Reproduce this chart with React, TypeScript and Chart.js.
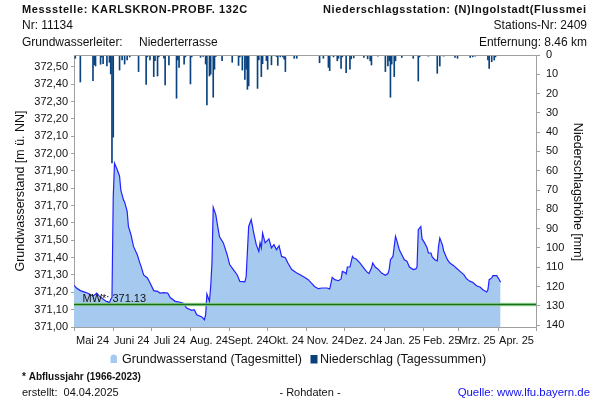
import React, { useEffect, useRef } from 'react';
import { Chart, registerables } from 'chart.js';

Chart.register(...registerables);

// day index 0 = 1 May 2024
const monthStartDays = [0, 31, 61, 92, 123, 153, 184, 214, 245, 276, 304, 335, 365];
const monthLabels = ['Mai 24', 'Juni 24', 'Juli 24', 'Aug. 24', 'Sept. 24', 'Okt. 24', 'Nov. 24', 'Dez. 24', 'Jan. 25', 'Feb. 25', 'Mrz. 25', 'Apr. 25', ''];
const levelTicks = [371.0, 371.1, 371.2, 371.3, 371.4, 371.5, 371.6, 371.7, 371.8, 371.9, 372.0, 372.1, 372.2, 372.3, 372.4, 372.5];
const rainTicks = [0, 10, 20, 30, 40, 50, 60, 70, 80, 90, 100, 110, 120, 130, 140];
const meanLevel = 371.13;

const gwDays = [
  0, 2, 5, 9, 11, 15, 18, 20, 25, 28,
  29, 30, 31, 32, 34, 36, 37, 39, 40, 42,
  43, 45, 47, 50, 52, 53, 55, 58, 60, 63,
  66, 68, 71, 74, 76, 80, 84, 86, 89, 93,
  95, 97, 101, 103, 104, 105, 107, 108, 109, 110,
  112, 114, 115, 118, 121, 123, 126, 129, 131, 135,
  136, 138, 140, 142, 144, 146, 147, 148, 149, 151,
  154, 156, 158, 160, 162, 164, 167, 169, 172, 176,
  179, 183, 185, 188, 190, 193, 196, 200, 202, 204,
  206, 209, 211, 212, 214, 215, 216, 218, 220, 221,
  223, 226, 229, 231, 233, 235, 236, 238, 240, 243,
  246, 248, 249, 250, 252, 254, 255, 257, 259, 261,
  263, 265, 268, 270, 271, 272, 274, 275, 277, 279,
  280, 282, 283, 285, 287, 288, 289, 291, 292, 295,
  297, 300, 302, 305, 308, 310, 313, 315, 318, 321,
  323, 326, 327, 328, 330, 331, 334, 336, 337,
];
const gwLevels = [
  371.24, 371.225, 371.21, 371.2, 371.195, 371.178, 371.195, 371.178, 371.15, 371.14,
  371.16, 371.17, 371.75, 371.945, 371.91, 371.87, 371.79, 371.735, 371.72, 371.667,
  371.58, 371.533, 371.465, 371.417, 371.37, 371.35, 371.3, 371.283, 371.255, 371.21,
  371.206, 371.196, 371.198, 371.196, 371.17, 371.148, 371.142, 371.138, 371.11, 371.096,
  371.1, 371.07, 371.058, 371.042, 371.07, 371.19, 371.148, 371.234, 371.37, 371.69,
  371.648, 371.56, 371.52, 371.485, 371.417, 371.36, 371.33, 371.3, 371.263, 371.26,
  371.29, 371.58, 371.62, 371.542, 371.475, 371.436, 371.485, 371.456, 371.542, 371.485,
  371.508, 371.456, 371.475, 371.446, 371.469, 371.407, 371.4, 371.369, 371.331, 371.311,
  371.3, 371.283, 371.273, 371.25, 371.234, 371.221, 371.225, 371.225, 371.219, 371.286,
  371.273, 371.267, 371.277, 371.321, 371.315, 371.306, 371.346, 371.346, 371.407, 371.398,
  371.392, 371.369, 371.34, 371.321, 371.308, 371.34, 371.369, 371.346, 371.335, 371.311,
  371.298, 371.308, 371.331, 371.388, 371.407, 371.523, 371.5, 371.446, 371.417, 371.388,
  371.38, 371.346, 371.331, 371.335, 371.346, 371.561, 371.58, 371.508, 371.485, 371.456,
  371.427, 371.427, 371.404, 371.388, 371.382, 371.465, 371.513, 371.475, 371.44, 371.388,
  371.369, 371.354, 371.34, 371.321, 371.302, 371.279, 371.263, 371.258, 371.238, 371.229,
  371.215, 371.202, 371.215, 371.273, 371.283, 371.296, 371.296, 371.273, 371.258,
];

const rainDays = [
  1, 5, 15, 16, 17, 21, 22, 23, 26, 28,
  29, 30, 31, 36, 38, 40, 42, 44, 51, 57,
  58, 60, 63, 64, 66, 67, 71, 72, 75, 81,
  82, 83, 87, 88, 92, 93, 100, 102, 104, 105,
  107, 108, 110, 111, 112, 117, 125, 130, 131, 133,
  135, 136, 137, 138, 145, 146, 148, 149, 152, 153,
  156, 160, 161, 163, 165, 166, 167, 174, 176, 194,
  197, 201, 202, 205, 208, 209, 211, 212, 215, 218,
  219, 221, 229, 232, 234, 235, 240, 246, 248, 249,
  250, 251, 253, 254, 259, 268, 272, 273, 280, 287,
  289, 292, 301, 303, 313, 315, 317, 327, 328, 330,
  332, 333,
];
const rainMm = [
  1.7, 14, 13.3, 5, 5.7, 4.8, 1, 4.5, 5.6, 3.8,
  9.8, 56, 42.6, 7.8, 2.5, 4.7, 2.5, 1, 8.6, 15.2,
  1, 2.5, 11.2, 3, 10.9, 1, 1.7, 15.5, 5.2, 22.4,
  2.6, 6.4, 4.7, 1, 15, 1, 1.2, 0.8, 4.7, 25.9,
  10.9, 10, 21.9, 7.4, 0.8, 2.9, 3.8, 5.4, 1, 7.8,
  12.6, 7.4, 17.8, 16, 17.3, 2.5, 11.2, 4.5, 2.9, 7.4,
  5.1, 0.8, 5.4, 1, 1, 2.2, 8.6, 1.7, 1.7, 4,
  1.7, 6.4, 8.1, 1, 3, 1.7, 6.9, 1, 9.2, 7.4,
  2, 1.5, 1.3, 2, 3, 5.2, 0.6, 8.6, 5.7, 3,
  21.9, 4.7, 11.2, 3, 1.3, 1.7, 13.5, 1, 0.6, 9.5,
  5.7, 0.6, 1.3, 1.7, 1.3, 1, 0.6, 2.6, 6.9, 3.5,
  2.6, 1,
];

const FONT = '"Liberation Sans", Arial, sans-serif';
const AXIS_GREY = '#a0a0a0';

const overlayPlugin = {
  id: 'overlay',
  afterDatasetsDraw(chart: any) {
    const { ctx, chartArea: a, scales } = chart;
    const y = Math.round(scales.y.getPixelForValue(meanLevel)) + 0.5;
    ctx.save();
    ctx.beginPath();
    ctx.moveTo(a.left, y);
    ctx.lineTo(a.right, y);
    ctx.strokeStyle = 'rgba(150,215,150,0.9)';
    ctx.lineWidth = 3.5;
    ctx.stroke();
    ctx.beginPath();
    ctx.moveTo(a.left, y);
    ctx.lineTo(a.right, y);
    ctx.strokeStyle = '#17701a';
    ctx.lineWidth = 1.5;
    ctx.stroke();
    ctx.fillStyle = '#111';
    ctx.font = `11px ${FONT}`;
    ctx.textAlign = 'left';
    ctx.textBaseline = 'alphabetic';
    ctx.fillText('MW*: 371.13', a.left + 8.5, y - 2.5);
    // top frame line
    ctx.beginPath();
    ctx.moveTo(a.left, a.top + 0.5);
    ctx.lineTo(a.right, a.top + 0.5);
    ctx.strokeStyle = AXIS_GREY;
    ctx.lineWidth = 1;
    ctx.stroke();
    ctx.restore();
  },
  afterDraw(chart: any) {
    const { ctx } = chart;
    ctx.save();
    ctx.fillStyle = '#111';
    ctx.textBaseline = 'middle';
    // header
    ctx.textAlign = 'left';
    ctx.font = `bold 11px ${FONT}`;
    (ctx as any).letterSpacing = '0.6px';
    ctx.fillText('Messstelle: KARLSKRON-PROBF. 132C', 22, 9.5);
    ctx.fillText('Niederschlagsstation: (N)Ingolstadt(Flussmei', 323, 9.5);
    (ctx as any).letterSpacing = '0px';
    ctx.font = `12px ${FONT}`;
    ctx.fillText('Nr: 11134', 22, 26);
    ctx.fillText('Grundwasserleiter:', 22, 42.5);
    ctx.fillText('Niederterrasse', 139, 42.5);
    ctx.textAlign = 'right';
    ctx.fillText('Stations-Nr: 2409', 587, 26);
    ctx.fillText('Entfernung: 8.46 km', 587, 42.5);

    // axis titles
    ctx.textAlign = 'center';
    ctx.font = `12.5px ${FONT}`;
    ctx.save();
    ctx.translate(21, 191);
    ctx.rotate(-Math.PI / 2);
    ctx.fillText('Grundwasserstand [m ü. NN]', 0, 0);
    ctx.restore();
    ctx.save();
    ctx.translate(577, 192);
    ctx.rotate(Math.PI / 2);
    ctx.fillText('Niederschlagshöhe [mm]', 0, 0);
    ctx.restore();

    // legend
    ctx.fillStyle = 'rgb(166,201,240)';
    ctx.beginPath();
    ctx.moveTo(110.5, 363);
    ctx.lineTo(110.5, 358);
    ctx.quadraticCurveTo(110.5, 354.5, 113.75, 354.5);
    ctx.quadraticCurveTo(117, 354.5, 117, 358);
    ctx.lineTo(117, 363);
    ctx.closePath();
    ctx.fill();
    ctx.fillStyle = '#0a3f7c';
    ctx.fillRect(310.5, 355, 7, 8.5);
    ctx.fillStyle = '#111';
    ctx.textAlign = 'left';
    ctx.font = `12.5px ${FONT}`;
    ctx.fillText('Grundwasserstand (Tagesmittel)', 122, 360);
    ctx.fillText('Niederschlag (Tagessummen)', 320, 360);

    // footer
    ctx.font = `bold 10px ${FONT}`;
    ctx.fillText('* Abflussjahr (1966-2023)', 22, 377);
    ctx.font = `11px ${FONT}`;
    ctx.fillText('erstellt:  04.04.2025', 22, 392.5);
    ctx.textAlign = 'center';
    ctx.fillText('- Rohdaten -', 310, 392.5);
    ctx.textAlign = 'right';
    ctx.fillStyle = '#1010ee';
    ctx.font = `11.4px ${FONT}`;
    ctx.fillText('Quelle: www.lfu.bayern.de', 590, 392.5);
    ctx.restore();
  },
};

export default function App() {
  const canvasRef = useRef<HTMLCanvasElement | null>(null);

  useEffect(() => {
    document.body.style.margin = '0';
    const canvas = canvasRef.current;
    if (!canvas) return;
    const gwData = gwDays.map((d, i) => ({ x: d, y: gwLevels[i] }));
    const rainData = rainDays.map((d, i) => ({ x: d, y: rainMm[i] }));
    const tickFont = { family: FONT, size: 11 };
    const chart = new Chart(canvas, {
      data: {
        datasets: [
          {
            type: 'bar',
            label: 'Niederschlag (Tagessummen)',
            data: rainData as any,
            xAxisID: 'x',
            yAxisID: 'y2',
            backgroundColor: '#0a437f',
            barThickness: 1,
            grouped: false,
            order: 0,
          } as any,
          {
            type: 'line',
            label: 'Grundwasserstand (Tagesmittel)',
            data: gwData as any,
            xAxisID: 'x',
            yAxisID: 'y',
            borderColor: '#2222ff',
            borderWidth: 1.2,
            backgroundColor: 'rgb(166,201,240)',
            fill: 'start',
            pointRadius: 0,
            tension: 0,
            order: 1,
          } as any,
        ],
      },
      options: {
        responsive: false,
        animation: false,
        devicePixelRatio: 1,
        layout: { padding: { top: 55, left: 0, right: 0, bottom: 0 } },
        plugins: { legend: { display: false }, tooltip: { enabled: false }, title: { display: false } },
        scales: {
          x: {
            type: 'linear',
            position: 'bottom',
            min: 0,
            max: 365,
            offset: false,
            afterBuildTicks: (s: any) => {
              s.ticks = monthStartDays.map((v) => ({ value: v }));
            },
            afterFit: (s: any) => {
              s.height = 73;
            },
            ticks: {
              autoSkip: false,
              maxRotation: 0,
              minRotation: 0,
              labelOffset: 18.5,
              padding: 3,
              color: '#111',
              font: tickFont,
              callback: (_v: any, i: number) => monthLabels[i],
            },
            grid: { offset: false, drawOnChartArea: false, drawTicks: true, tickLength: 4, color: AXIS_GREY },
            border: { display: true, color: AXIS_GREY },
          },
          y: {
            type: 'linear',
            position: 'left',
            min: 371.0,
            max: 372.569,
            afterBuildTicks: (s: any) => {
              s.ticks = levelTicks.map((v) => ({ value: v }));
            },
            afterFit: (s: any) => {
              s.width = 74;
            },
            ticks: {
              padding: 3,
              color: '#111',
              font: tickFont,
              callback: (v: any) => Number(v).toFixed(2).replace('.', ','),
            },
            grid: { drawOnChartArea: false, drawTicks: true, tickLength: 3, color: AXIS_GREY },
            border: { display: true, color: AXIS_GREY },
          },
          y2: {
            type: 'linear',
            position: 'right',
            min: 0,
            max: 141,
            reverse: true,
            afterBuildTicks: (s: any) => {
              s.ticks = rainTicks.map((v) => ({ value: v }));
            },
            afterFit: (s: any) => {
              s.width = 64;
            },
            ticks: {
              padding: 6,
              color: '#111',
              font: tickFont,
              callback: (v: any) => String(v),
            },
            grid: { drawOnChartArea: false, drawTicks: true, tickLength: 4, color: AXIS_GREY },
            border: { display: true, color: AXIS_GREY },
          },
        },
      } as any,
      plugins: [overlayPlugin],
    });
    return () => chart.destroy();
  }, []);

  return (
    <div style={{ position: 'fixed', left: 0, top: 0, width: 600, height: 400, background: '#fff' }}>
      <canvas ref={canvasRef} width={600} height={400} style={{ display: 'block', width: 600, height: 400 }} />
    </div>
  );
}
